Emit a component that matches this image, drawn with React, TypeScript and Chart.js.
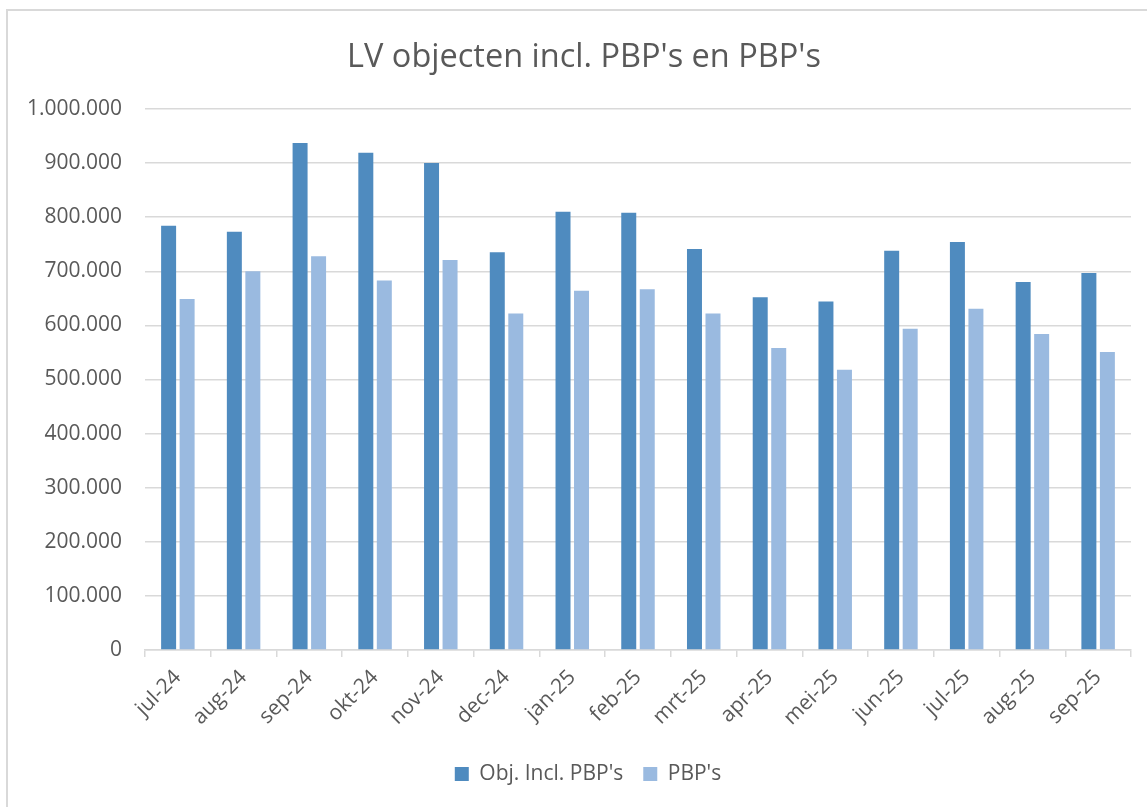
import React, { useEffect, useRef } from "react";
import { Chart, registerables } from "chart.js";

Chart.register(...registerables);

const chartTitle = "LV objecten incl. PBP's en PBP's";
const categories = [
  "jul-24", "aug-24", "sep-24", "okt-24", "nov-24", "dec-24", "jan-25", "feb-25",
  "mrt-25", "apr-25", "mei-25", "jun-25", "jul-25", "aug-25", "sep-25",
];
const seriesNames = ["Obj. Incl. PBP's", "PBP's"];
const objInclPBP = [
  784000, 773000, 937000, 919000, 900000, 735000, 810000, 808000,
  741000, 652000, 644000, 738000, 754000, 680000, 697000,
];
const pbp = [
  649000, 700000, 728000, 683000, 721000, 622000, 664000, 667000,
  622000, 558000, 518000, 594000, 631000, 584000, 551000,
];
const yMin = 0;
const yMax = 1000000;
const yStep = 100000;

const formatNL = (v: number) =>
  String(Math.round(v)).replace(/\B(?=(\d{3})+(?!\d))/g, ".");

const FONT = "'Open Sans', 'Noto Sans', sans-serif";
const TEXT = "#595959";
const GRID = "#d9d9d9";

const shiftBlocks = {
  id: "shiftBlocks",
  afterLayout(chart: any) {
    const t = chart.titleBlock;
    if (t) {
      t.left += 8.5;
      t.right += 8.5;
    }
    const l = chart.legend;
    if (l) {
      l.left += 12.5;
      l.right += 12.5;
    }
  },
};

export default function App() {
  const ref = useRef<HTMLCanvasElement | null>(null);

  useEffect(() => {
    if (!ref.current) return;
    const chart = new Chart(ref.current, {
      type: "bar",
      data: {
        labels: categories,
        datasets: [
          {
            label: seriesNames[0],
            data: objInclPBP,
            backgroundColor: "#4f8bbf",
            borderWidth: 0,
            categoryPercentage: 0.563,
            barPercentage: 0.81,
          },
          {
            label: seriesNames[1],
            data: pbp,
            backgroundColor: "#9abae0",
            borderWidth: 0,
            categoryPercentage: 0.563,
            barPercentage: 0.81,
          },
        ],
      },
      plugins: [shiftBlocks],
      options: {
        responsive: false,
        animation: false,
        layout: { padding: { left: 20, right: 16, top: 0, bottom: 12.5 } },
        plugins: {
          title: {
            display: true,
            text: chartTitle,
            color: TEXT,
            font: { family: FONT, size: 32.5, weight: "normal" },
            padding: { top: 38.5, bottom: 31.5 },
          },
          legend: {
            position: "bottom",
            labels: {
              boxWidth: 14,
              boxHeight: 14,
              padding: 20,
              color: TEXT,
              font: { family: FONT, size: 21 },
            },
          },
          tooltip: { enabled: false },
        },
        scales: {
          x: {
            grid: {
              display: true,
              offset: true,
              drawOnChartArea: false,
              drawTicks: true,
              tickLength: 7,
              color: GRID,
              lineWidth: 1.5,
            },
            border: { display: true, color: GRID, width: 1.5 },
            ticks: {
              color: TEXT,
              font: { family: FONT, size: 21 },
              maxRotation: 45,
              minRotation: 45,
              autoSkip: false,
              padding: 8,
            },
            afterFit: (scale: any) => {
              scale.height = 93.5;
            },
          },
          y: {
            min: yMin,
            max: yMax,
            grid: { color: GRID, drawTicks: false, lineWidth: 1.5 },
            border: { display: false },
            ticks: {
              stepSize: yStep,
              color: TEXT,
              font: { family: FONT, size: 21 },
              padding: 23,
              callback: (v: any) => formatNL(Number(v)),
            },
            afterFit: (scale: any) => {
              scale.width = 125;
            },
          },
        },
      },
    } as any);
    return () => chart.destroy();
  }, []);

  return (
    <div
      style={{
        position: "fixed",
        left: 0,
        top: 0,
        width: 1147,
        height: 807,
        overflow: "hidden",
        background: "#ffffff",
      }}
    >
      <div
        style={{
          position: "absolute",
          left: 6,
          top: 9,
          width: 1300,
          height: 1000,
          borderLeft: "2px solid #d9d9d9",
          borderTop: "2px solid #d9d9d9",
        }}
      />
      <canvas
        ref={ref}
        width={1147}
        height={807}
        style={{ position: "absolute", left: 0, top: 0, width: 1147, height: 807 }}
      />
    </div>
  );
}
